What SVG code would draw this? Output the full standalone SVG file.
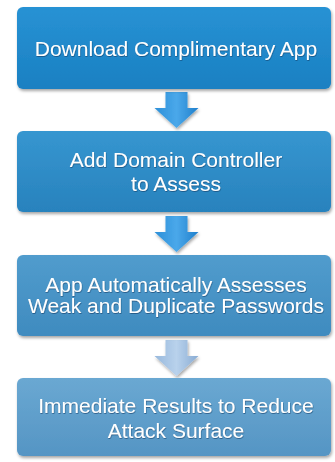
<svg xmlns="http://www.w3.org/2000/svg" width="335" height="462" viewBox="0 0 335 462">
  <defs>
    <linearGradient id="g1" x1="0" y1="0" x2="0" y2="1">
      <stop offset="0" stop-color="#2892d4"/>
      <stop offset="1" stop-color="#1a80c2"/>
    </linearGradient>
    <linearGradient id="g2" x1="0" y1="0" x2="0" y2="1">
      <stop offset="0" stop-color="#3696d0"/>
      <stop offset="1" stop-color="#2882bd"/>
    </linearGradient>
    <linearGradient id="g3" x1="0" y1="0" x2="0" y2="1">
      <stop offset="0" stop-color="#519ccd"/>
      <stop offset="1" stop-color="#3f8bbf"/>
    </linearGradient>
    <linearGradient id="g4" x1="0" y1="0" x2="0" y2="1">
      <stop offset="0" stop-color="#6aa8d2"/>
      <stop offset="1" stop-color="#5595c4"/>
    </linearGradient>
    <linearGradient id="ab" x1="0" y1="0" x2="1" y2="0">
      <stop offset="0" stop-color="#2c8fd8"/>
      <stop offset="0.5" stop-color="#4aa8ea"/>
      <stop offset="1" stop-color="#1f7fcc"/>
    </linearGradient>
    <linearGradient id="ag" x1="0" y1="0" x2="1" y2="0">
      <stop offset="0" stop-color="#97b8dc"/>
      <stop offset="0.5" stop-color="#b9d2ec"/>
      <stop offset="1" stop-color="#88abd3"/>
    </linearGradient>
    <filter id="sh" x="-10%" y="-10%" width="120%" height="130%">
      <feDropShadow dx="1" dy="2" stdDeviation="1.5" flood-color="#000" flood-opacity="0.35"/>
    </filter>
    <filter id="ts" x="-5%" y="-20%" width="110%" height="140%">
      <feDropShadow dx="0.5" dy="1" stdDeviation="0.6" flood-color="#0a3c66" flood-opacity="0.6"/>
    </filter>
    <path id="arrow" d="M-11,0 H11 V16 H22 L0,36 L-22,16 H-11 Z"/>
  </defs>
  <style>
    .box { stroke: none; filter: url(#sh); }
    .lbl { font-family: "Liberation Sans", Arial, sans-serif; font-size: 21px; fill: #ffffff; text-anchor: middle; filter: url(#ts); }
  </style>

  <g id="connectors">
    <use href="#arrow" x="176.5" y="92" fill="url(#ab)" filter="url(#sh)"/>
    <use href="#arrow" x="176.5" y="216" fill="url(#ab)" filter="url(#sh)"/>
    <use href="#arrow" x="176.5" y="340" fill="url(#ag)" filter="url(#sh)"/>
  </g>

  <g id="node1">
    <rect class="box" x="17" y="7" width="314" height="82" rx="6" fill="url(#g1)"/>
    <text class="lbl" x="176" y="56">Download Complimentary App</text>
  </g>
  <g id="node2">
    <rect class="box" x="17" y="131" width="314" height="81" rx="6" fill="url(#g2)"/>
    <text class="lbl" x="176" y="167">Add Domain Controller</text>
    <text class="lbl" x="176" y="191">to Assess</text>
  </g>
  <g id="node3">
    <rect class="box" x="17" y="255" width="314" height="81" rx="6" fill="url(#g3)"/>
    <text class="lbl" x="176" y="292">App Automatically Assesses</text>
    <text class="lbl" x="176" y="313">Weak and Duplicate Passwords</text>
  </g>
  <g id="node4">
    <rect class="box" x="17" y="378" width="314" height="78" rx="6" fill="url(#g4)"/>
    <text class="lbl" x="176" y="413">Immediate Results to Reduce</text>
    <text class="lbl" x="176" y="438">Attack Surface</text>
  </g>
</svg>
